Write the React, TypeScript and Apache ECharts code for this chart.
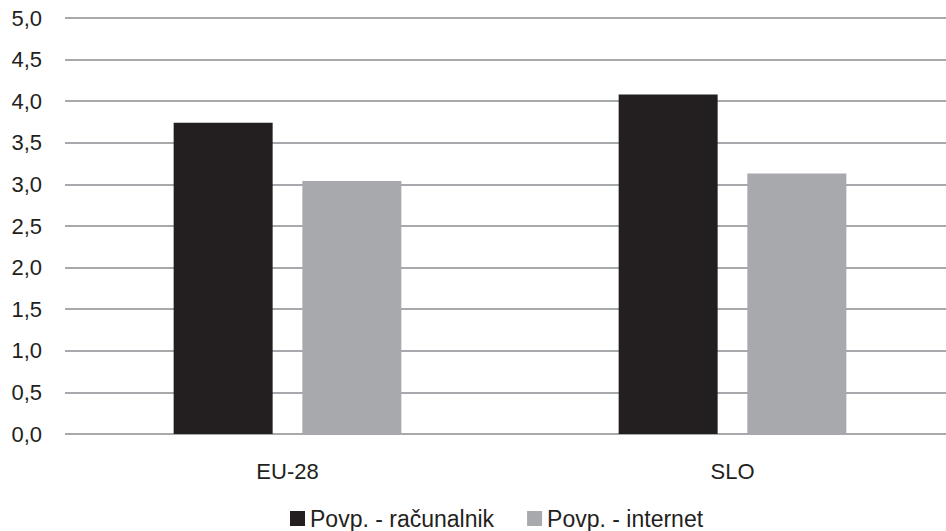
import React, { useEffect, useRef } from "react";
import * as echarts from "echarts";

// Povprečne vrednosti po regijah
const categories = ["EU-28", "SLO"];
const racunalnik = [3.74, 4.08];
const internet = [3.04, 3.13];
const seriesNames = ["Povp. - računalnik", "Povp. - internet"];

const FONT = "'Liberation Sans', Arial, sans-serif";
const TEXT = "#231f20";

export default function App() {
  const ref = useRef<HTMLDivElement>(null);

  useEffect(() => {
    if (!ref.current) return;
    const chart = echarts.init(ref.current, null, { renderer: "svg" });
    chart.setOption({
      animation: false,
      textStyle: { fontFamily: FONT, color: TEXT },
      // plot area runs slightly past the visible right edge
      grid: { left: 65, right: 5, top: 18, bottom: 97, containLabel: false },
      legend: {
        left: 290,
        top: 507,
        padding: 0,
        itemWidth: 15,
        itemHeight: 15,
        itemGap: 33,
        icon: "rect",
        textStyle: { fontFamily: FONT, fontSize: 23, lineHeight: 22, color: TEXT },
        data: seriesNames,
      },
      xAxis: {
        type: "category",
        data: categories,
        axisLine: { show: false },
        axisTick: { show: false },
        axisLabel: { fontFamily: FONT, fontSize: 22, color: TEXT, margin: 26 },
      },
      yAxis: {
        type: "value",
        min: 0,
        max: 5,
        interval: 0.5,
        axisLine: { show: false },
        axisTick: { show: false },
        axisLabel: {
          fontFamily: FONT,
          fontSize: 22,
          color: TEXT,
          margin: 23,
          formatter: (v: number) => v.toFixed(1).replace(".", ","),
        },
        splitLine: { lineStyle: { color: "#a7a9ac", width: 2 } },
      },
      series: [
        {
          name: seriesNames[0],
          type: "bar",
          data: racunalnik,
          barWidth: 99,
          barGap: "30%",
          itemStyle: { color: "#231f20" },
        },
        {
          name: seriesNames[1],
          type: "bar",
          data: internet,
          barWidth: 99,
          itemStyle: { color: "#a7a9ac" },
        },
      ],
    });
    return () => chart.dispose();
  }, []);

  return (
    <div style={{ position: "absolute", left: 0, top: 0, width: 946, height: 531, overflow: "hidden" }}>
      <div ref={ref} style={{ width: 960, height: 531 }} />
    </div>
  );
}
